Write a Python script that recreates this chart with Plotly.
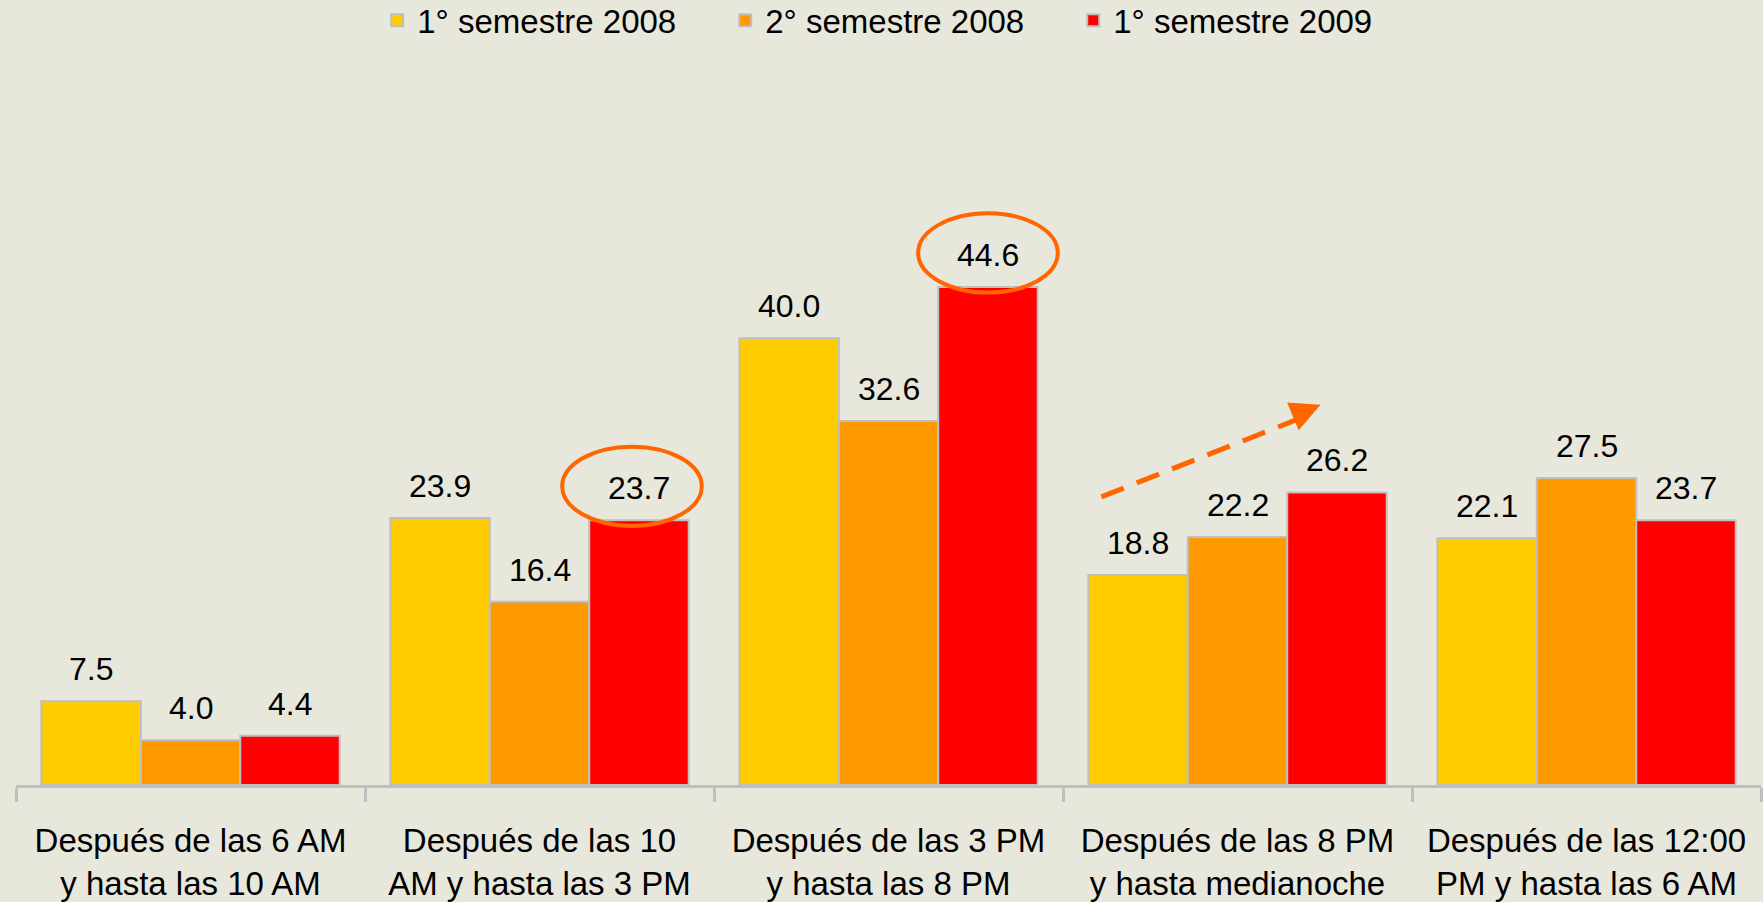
import plotly.graph_objects as go

# categories and series
categories = [
    "Después de las 6 AM<br>y hasta las 10 AM",
    "Después de las 10<br>AM y hasta las 3 PM",
    "Después de las 3 PM<br>y hasta las 8 PM",
    "Después de las 8 PM<br>y hasta medianoche",
    "Después de las 12:00<br>PM y hasta las 6 AM",
]
series_names = ["1° semestre 2008", "2° semestre 2008", "1° semestre 2009"]
sem1_2008 = [7.5, 23.9, 40.0, 18.8, 22.1]
sem2_2008 = [4.0, 16.4, 32.6, 22.2, 27.5]
sem1_2009 = [4.4, 23.7, 44.6, 26.2, 23.7]
series_values = [sem1_2008, sem2_2008, sem1_2009]

colors = ["#FFCC00", "#FF9900", "#FF0000"]
bg = "#E8E7DC"
grey = "#BFBFBF"
accent = "#FF6600"
font = "Liberation Sans"

bargap = 0.145
bw = (1 - bargap) / 3  # width of one bar in category units

fig = go.Figure()
for name, vals, col in zip(series_names, series_values, colors):
    fig.add_trace(go.Bar(
        x=categories, y=vals, name=name,
        marker=dict(color=col, line=dict(color=grey, width=2)),
    ))

# value labels above each bar
annotations = []
for j, vals in enumerate(series_values):
    for i, v in enumerate(vals):
        annotations.append(dict(
            x=i + (j - 1) * bw, y=v, xref="x", yref="y",
            text=f"{v:.1f}", showarrow=False, yanchor="bottom", yshift=12,
            font=dict(family=font, size=32, color="black"),
        ))

# highlight ellipses around two of the 2009 values
shapes = []
for i in [1, 2]:
    v = sem1_2009[i]
    cx = i + bw - 0.02 * (i == 1)
    shapes.append(dict(
        type="circle", xref="x", yref="y",
        x0=cx - 0.2, x1=cx + 0.2, y0=v - 0.5, y1=v + 6.6,
        line=dict(color=accent, width=4),
    ))

# dashed trend arrow over the 8 PM group
arrow_start = (2.61, 25.8)
arrow_end = (3.238, 34.05)
shapes.append(dict(
    type="line", xref="x", yref="y",
    x0=arrow_start[0], y0=arrow_start[1],
    x1=arrow_end[0] - 0.05, y1=arrow_end[1] - 1.1,
    line=dict(color=accent, width=5, dash="24px,14px"),
))
annotations.append(dict(
    x=arrow_end[0], y=arrow_end[1], xref="x", yref="y",
    ax=-22, ay=9.2, axref="pixel", ayref="pixel",
    text="", showarrow=True, arrowhead=2, arrowsize=1.2,
    arrowwidth=5, arrowcolor=accent,
))

fig.update_layout(
    width=1763, height=902,
    paper_bgcolor=bg, plot_bgcolor=bg,
    margin=dict(l=16, r=2, t=115, b=117, autoexpand=False),
    barmode="group", bargap=bargap, bargroupgap=0,
    font=dict(family=font, size=32, color="black"),
    legend=dict(
        orientation="h", x=0.207, xanchor="left", y=1.183, yref="paper",
        yanchor="top", font=dict(size=33), bgcolor="rgba(0,0,0,0)",
        itemwidth=30, traceorder="normal", entrywidth=303,
        entrywidthmode="pixels",
    ),
    xaxis=dict(
        type="category", tickson="boundaries", ticks="outside",
        ticklen=14, tickwidth=3, tickcolor=grey,
        showline=True, linecolor=grey, linewidth=3,
        tickfont=dict(family=font, size=33), ticklabelstandoff=24,
        automargin=False,
    ),
    yaxis=dict(range=[0, 60], visible=False, showgrid=False, zeroline=False),
    annotations=annotations,
    shapes=shapes,
)

fig.write_html("out.html", config={"displayModeBar": False},
               post_script="document.body.style.margin='0';")
